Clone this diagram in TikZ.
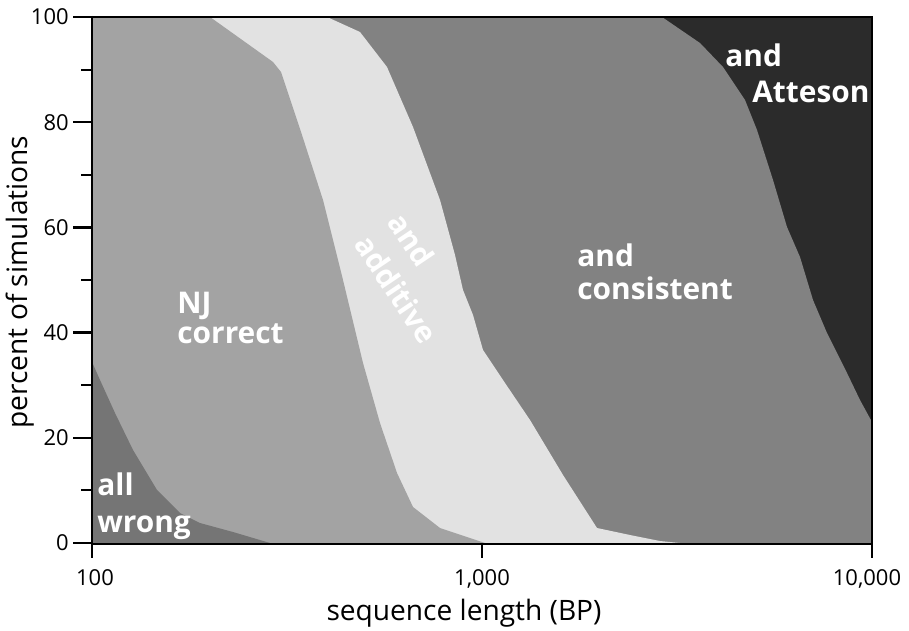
\documentclass[tikz,border=0pt]{standalone}
\usepackage{fontspec}
\setmainfont{Open Sans}
\usetikzlibrary{positioning}

\definecolor{wronggray}{gray}{0.46}
\definecolor{njgray}{gray}{0.64}
\definecolor{addgray}{gray}{0.885}
\definecolor{consgray}{gray}{0.51}
\definecolor{attgray}{gray}{0.17}

\begin{document}
\begin{tikzpicture}[
    x=0.02cm, y=-0.02cm,
    lbl/.style={text=white, font=\fontsize{17}{17}\selectfont\bfseries,
                align=left, inner sep=0pt},
    ticklbl/.style={font=\fontsize{12.5}{14}\selectfont, inner sep=0pt},
    axtitle/.style={font=\fontsize{16}{18}\selectfont, inner sep=0pt},
    axisline/.style={line width=1.7pt},
    frame/.style={line width=1.1pt},
    majtick/.style={line width=1.4pt},
    mintick/.style={line width=1.1pt}
]
\useasboundingbox (0,0) rectangle (909,631);

% regions, back to front
\fill[attgray] (92,17) rectangle (872,543);
\fill[consgray] (92,17) -- (662,17) -- (700,43) -- (723,67) -- (745,100) -- (757,130)
  -- (773,180) -- (787,227) -- (800,257) -- (813,300) -- (827,333) -- (847,373)
  -- (860,400) -- (872,422) -- (872,543) -- (92,543) -- cycle;
\fill[addgray] (92,17) -- (327,17) -- (360,32) -- (387,67) -- (413,127) -- (440,200)
  -- (455,255) -- (463,290) -- (473,315) -- (483,350) -- (503,380) -- (530,420)
  -- (563,475) -- (597,528) -- (630,535) -- (660,541) -- (680,543) -- (92,543) -- cycle;
\fill[njgray] (92,17) -- (210,17) -- (273,62) -- (281,72) -- (302,135) -- (323,200)
  -- (343,280) -- (363,363) -- (380,423) -- (397,473) -- (413,507) -- (440,528)
  -- (470,538) -- (485,543) -- (92,543) -- cycle;
\fill[wronggray] (92,362) -- (100,380) -- (115,413) -- (133,450) -- (157,490)
  -- (180,513) -- (200,523) -- (233,532) -- (270,543) -- (92,543) -- cycle;

% region labels
\node[lbl, anchor=base west] (allwrong) at (97,532) {all\\[4pt]wrong};
\node[lbl, anchor=base west] (njcorrect) at (177,343) {NJ\\correct};
\node[lbl, anchor=base west] (consistent) at (577,300) {and\\[2pt]consistent};
\node[lbl, anchor=base west] (atteson) at (725,103) {and\\[3.5pt]\hspace*{0.54cm}Atteson};
\node[lbl, rotate=-56] (additive) at (413,278) {and\\[5.5pt]additive};

% frame and axes
\draw[frame] (92,17) -- (872,17) -- (872,543);
\draw[axisline] (92,16) -- (92,544) -- (873,544);
\foreach \p in {0,20,...,100}
  \draw[majtick] (73,{543-5.26*\p}) -- (92,{543-5.26*\p});
\foreach \p in {10,30,...,90}
  \draw[mintick] (81,{543-5.26*\p}) -- (92,{543-5.26*\p});
\foreach \x in {92,482,872}
  \draw[majtick] (\x,543) -- (\x,558);

% tick labels
\foreach \p in {0,20,...,100}
  \node[ticklbl, anchor=east] (y\p) at (69,{543-5.26*\p}) {\p};
\node[ticklbl, anchor=base] (x100) at (95,585) {100};
\node[ticklbl, anchor=base] (x1000) at (482,585) {1,000};
\node[ticklbl, anchor=base] (x10000) at (867,585) {10,000};

% axis titles
\node[axtitle, anchor=base] (xlabel) at (464,620) {sequence length (BP)};
\node[axtitle, anchor=base, rotate=90] (ylabel) at (28,282) {percent of simulations};
\end{tikzpicture}
\end{document}
